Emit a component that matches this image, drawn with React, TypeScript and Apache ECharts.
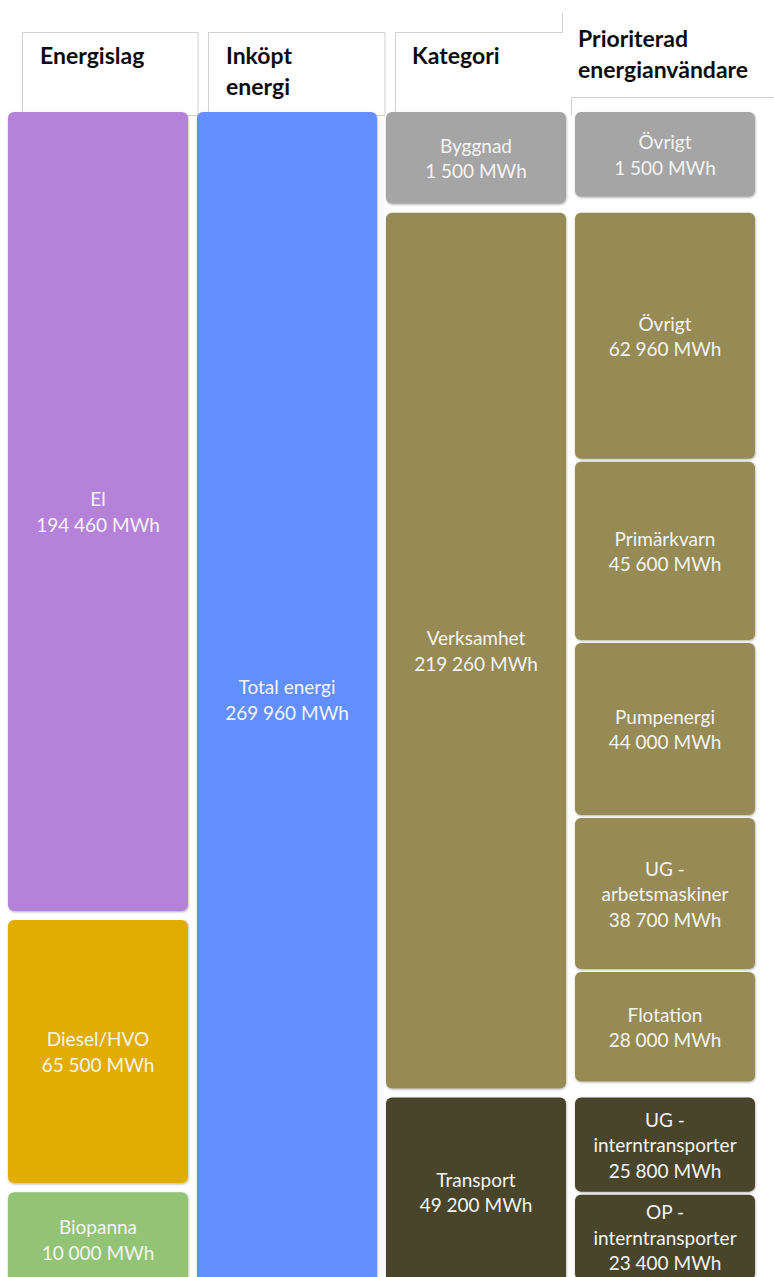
import React, { useEffect, useRef } from "react";
import * as echarts from "echarts";

// ---- data ----
const columnTitles = ["Energislag", "Inköpt energi", "Kategori", "Prioriterad energianvändare"];

const energislagNames = ["El", "Diesel/HVO", "Biopanna"];
const energislagValues = [194460, 65500, 10000];
const energislagColors = ["#b482d8", "#e0ad02", "#93c475"];

const totalName = "Total energi";
const totalValue = 269960;
const totalColor = "#638eff";

const kategoriNames = ["Byggnad", "Verksamhet", "Transport"];
const kategoriValues = [1500, 219260, 49200];
const kategoriColors = ["#a5a5a5", "#968a54", "#49452a"];

const prioNames = [
  "Övrigt",
  "Övrigt",
  "Primärkvarn",
  "Pumpenergi",
  "UG -\narbetsmaskiner",
  "Flotation",
  "UG -\ninterntransporter",
  "OP -\ninterntransporter",
];
const prioValues = [1500, 62960, 45600, 44000, 38700, 28000, 25800, 23400];
const prioParent = [0, 1, 1, 1, 1, 1, 2, 2];

// ---- layout constants ----
const MIN_SHOWN = 25000; // smallest block weight so that its label fits
const OUTER_GAP = 9;
const INNER_GAP = 3;
const CHILD_END_GAP = 16;
const LABEL_COLOR = "#f4f4f4";
const HEADER_LINE = "#d0d0d0";

const fmt = (v: number) =>
  String(v).replace(/\B(?=(\d{3})+(?!\d))/g, " ") + " MWh";

type Block = {
  v: number[]; // [col, y0, y1, f0, f1, i, n, endGap]
  color: string;
  label: string;
};

function stackColumn(col: number, names: string[], values: number[], colors: string[]): { blocks: Block[]; ranges: number[][] } {
  const weights = values.map((v) => Math.max(v, MIN_SHOWN));
  const sum = weights.reduce((a, b) => a + b, 0);
  const k = totalValue / sum;
  let acc = 0;
  const blocks: Block[] = [];
  const ranges: number[][] = [];
  weights.forEach((w, i) => {
    const y0 = acc;
    const y1 = acc + w * k;
    acc = y1;
    ranges.push([y0, y1]);
    blocks.push({
      v: [col, y0, y1, 0, 1, 0, 1, OUTER_GAP],
      color: colors[i],
      label: names[i] + "\n" + fmt(values[i]),
    });
  });
  return { blocks, ranges };
}

function buildBlocks(): Block[] {
  const c0 = stackColumn(0, energislagNames, energislagValues, energislagColors);
  const c1 = stackColumn(1, [totalName], [totalValue], [totalColor]);
  const c2 = stackColumn(2, kategoriNames, kategoriValues, kategoriColors);
  const c3: Block[] = [];
  kategoriNames.forEach((_, g) => {
    const idx = prioParent.map((p, i) => (p === g ? i : -1)).filter((i) => i >= 0);
    const groupSum = idx.reduce((a, i) => a + prioValues[i], 0);
    const [y0, y1] = c2.ranges[g];
    let acc = 0;
    idx.forEach((i, j) => {
      const f0 = acc / groupSum;
      acc += prioValues[i];
      const f1 = acc / groupSum;
      c3.push({
        v: [3, y0, y1, f0, f1, j, idx.length, CHILD_END_GAP],
        color: kategoriColors[g],
        label: prioNames[i] + "\n" + fmt(prioValues[i]),
      });
    });
  });
  return [...c0.blocks, ...c1.blocks, ...c2.blocks, ...c3];
}

export default function App() {
  const ref = useRef<HTMLDivElement>(null);
  useEffect(() => {
    document.body.style.margin = "0";
    document.documentElement.style.overflow = "hidden";
    document.body.style.overflow = "hidden";
    if (!ref.current) return;
    const chart = echarts.init(ref.current, undefined, { renderer: "svg" });
    const blocks = buildBlocks();

    const headerFont = "bold 23px Lato";
    const headerText = (text: string, x: number, y: number) => ({
      type: "text",
      x,
      y,
      silent: true,
      style: { text, font: headerFont, fill: "#0d0d0d", verticalAlign: "middle", align: "left" },
    });
    const hline = (x1: number, y1: number, x2: number, y2: number) => ({
      type: "line",
      silent: true,
      shape: { x1, y1, x2, y2 },
      style: { stroke: HEADER_LINE, lineWidth: 1 },
    });

    chart.setOption({
      animation: false,
      backgroundColor: "#ffffff",
      textStyle: { fontFamily: "Lato" },
      grid: { left: 3.5, right: 14.5, top: 112, bottom: 0 },
      xAxis: { type: "category", data: columnTitles, show: false },
      yAxis: { type: "value", min: 0, max: totalValue, inverse: true, show: false },
      graphic: [
        { type: "rect", silent: true, shape: { x: 22.5, y: 32.5, width: 175.5, height: 83 }, style: { fill: "#fff", stroke: HEADER_LINE, lineWidth: 1 } },
        { type: "rect", silent: true, shape: { x: 208.5, y: 32.5, width: 176.5, height: 83 }, style: { fill: "#fff", stroke: HEADER_LINE, lineWidth: 1 } },
        hline(395.5, 32.5, 395.5, 116),
        hline(395.5, 32.5, 562.5, 32.5),
        hline(562.5, 13, 562.5, 32.5),
        hline(571.5, 97.5, 774, 97.5),
        hline(571.5, 97.5, 571.5, 116),
        headerText("Energislag", 40, 55),
        headerText("Inköpt", 226, 55),
        headerText("energi", 226, 86),
        headerText("Kategori", 412, 55),
        headerText("Prioriterad", 578, 38),
        headerText("energianvändare", 578, 69),
      ],
      series: [
        {
          type: "custom",
          z: 5,
          encode: { x: 0, y: 1 },
          data: blocks.map((b) => b.v),
          renderItem: (params: any, api: any) => {
            const b = blocks[params.dataIndex];
            const col = api.value(0);
            const y0 = api.value(1);
            const y1 = api.value(2);
            const f0 = api.value(3);
            const f1 = api.value(4);
            const i = api.value(5);
            const n = api.value(6);
            const endGap = api.value(7);
            const pTop = api.coord([col, y0]);
            const pBot = api.coord([col, y1]);
            const bandW = api.size([1, 0])[0];
            const w = bandW - OUTER_GAP;
            const x = pTop[0] - w / 2;
            const top = pTop[1];
            const bottom = pBot[1] - endGap;
            const avail = bottom - top - (n - 1) * INNER_GAP;
            const yt = top + f0 * avail + i * INNER_GAP;
            const yb = top + f1 * avail + i * INNER_GAP;
            return {
              type: "group",
              children: [
                {
                  type: "rect",
                  shape: { x, y: yt, width: w, height: yb - yt, r: 6 },
                  style: {
                    fill: b.color,
                    shadowBlur: 2,
                    shadowColor: "rgba(0,0,0,0.3)",
                    shadowOffsetX: 0.5,
                    shadowOffsetY: 1,
                  },
                },
                {
                  type: "text",
                  style: {
                    text: b.label,
                    x: pTop[0],
                    y: (yt + yb) / 2,
                    align: "center",
                    verticalAlign: "middle",
                    fill: LABEL_COLOR,
                    fontSize: 19,
                    fontFamily: "Lato",
                    lineHeight: 25.5,
                  },
                },
              ],
            };
          },
        },
      ],
    });
    return () => chart.dispose();
  }, []);
  return <div ref={ref} style={{ width: 774, height: 1296 }} />;
}
